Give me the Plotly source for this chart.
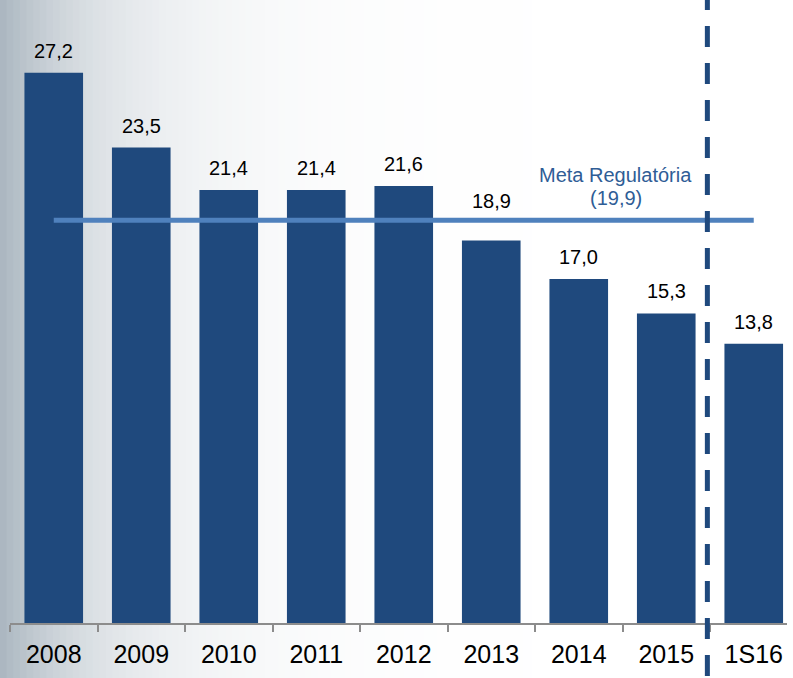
import math
import plotly.graph_objects as go

# data
categories = ["2008", "2009", "2010", "2011", "2012", "2013", "2014", "2015", "1S16"]
values = [27.2, 23.5, 21.4, 21.4, 21.6, 18.9, 17.0, 15.3, 13.8]
meta_value = 19.9
meta_label = "Meta Regulatória"


def fmt(v):
    return f"{v:.1f}".replace(".", ",")


fig = go.Figure()

fig.add_trace(go.Bar(
    x=categories,
    y=values,
    marker=dict(color="#1f497d", line=dict(width=0)),
    width=0.67,
    hoverinfo="skip",
))

# regulatory target line
fig.add_trace(go.Scatter(
    x=[categories[0], categories[-1]],
    y=[meta_value, meta_value],
    mode="lines",
    line=dict(color="#4f81bd", width=5),
    hoverinfo="skip",
))

# value labels above bars (index positions, the axis is categorical)
for i, v in enumerate(values):
    # push the label above the target line when it would touch it
    shift = 9
    if meta_value - 1.5 < v < meta_value:
        shift = 27
    fig.add_annotation(x=i, y=v, text=fmt(v), showarrow=False,
                       yanchor="bottom", yshift=shift,
                       font=dict(size=20, color="#000000"))

fig.add_annotation(x=6.42, y=22.15, text=meta_label, showarrow=False,
                   font=dict(size=20, color="#2f5d96"))
fig.add_annotation(x=6.42, y=21.0, text=f"({fmt(meta_value)})", showarrow=False,
                   font=dict(size=20, color="#2f5d96"))

# background gradient on the left (stripes)
shapes = []
n = 80
x_left_px, x_right_px, plot_w = -10, 520, 777
c0 = (169, 181, 191)
for i in range(n):
    px = x_left_px + (x_right_px - x_left_px) * (i + 0.5) / n + 10
    f = math.exp(-px / 108)
    col = tuple(round(255 - (255 - c) * f) for c in c0)
    xa = (x_left_px + (x_right_px - x_left_px) * i / n) / plot_w
    xb = (x_left_px + (x_right_px - x_left_px) * (i + 1) / n) / plot_w + 0.002
    shapes.append(dict(type="rect", xref="paper", yref="paper",
                       x0=xa, x1=xb, y0=-0.1, y1=1.05,
                       fillcolor=f"rgb{col}", line=dict(width=0), layer="below"))

# dashed separator between 2015 and 1S16
shapes.append(dict(type="line", xref="x", yref="paper",
                   x0=7.47, x1=7.47, y0=1.0445, y1=-0.1,
                   line=dict(color="#1f497d", width=5, dash="21px,16px"),
                   layer="above"))

fig.update_layout(
    width=793,
    height=678,
    margin=dict(l=10, r=6, t=16, b=55),
    paper_bgcolor="#ffffff",
    plot_bgcolor="rgba(0,0,0,0)",
    showlegend=False,
    font=dict(family="Liberation Sans, Arial, sans-serif"),
    shapes=shapes,
    bargap=0.33,
)

fig.update_xaxes(
    type="category",
    range=[-0.5, 8.38],
    showline=True,
    linecolor="#8c8c8c",
    linewidth=2,
    ticks="outside",
    tickson="boundaries",
    ticklen=7,
    tickwidth=2,
    tickcolor="#8c8c8c",
    tickfont=dict(size=25, color="#000000"),
    ticklabelstandoff=8,
    showgrid=False,
    zeroline=False,
)

fig.update_yaxes(
    range=[0, 30],
    visible=False,
    showgrid=False,
    zeroline=False,
)

fig.write_html("out.html",
               config={"displayModeBar": False},
               post_script="document.body.style.margin='0px';document.body.style.overflow='hidden';")
